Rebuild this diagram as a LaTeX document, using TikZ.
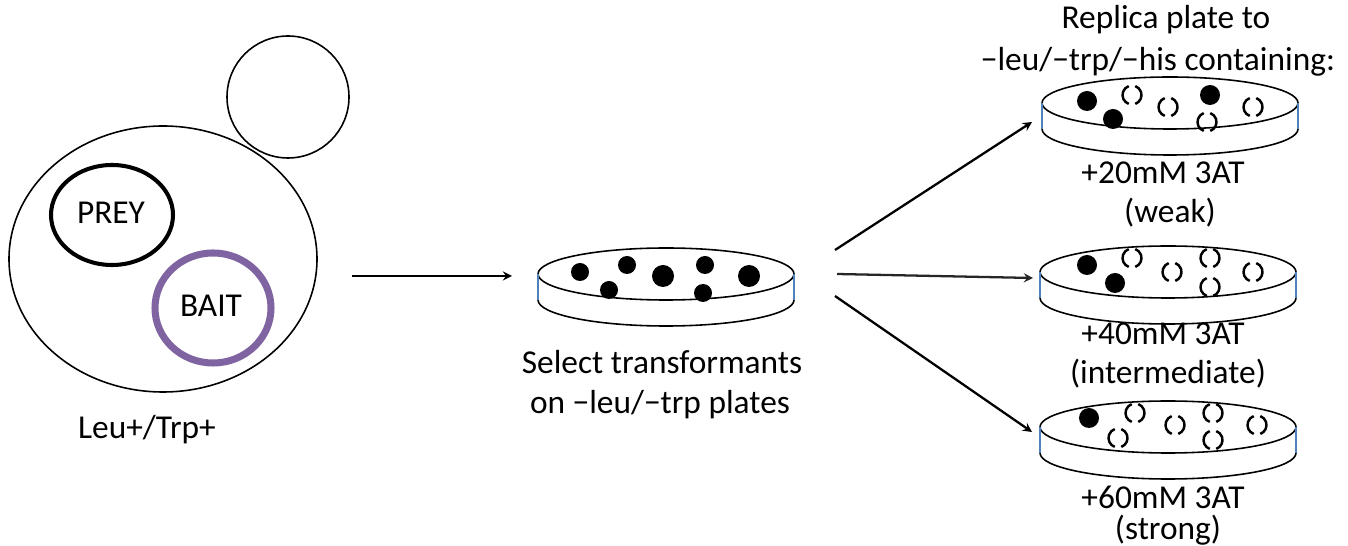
\documentclass[tikz,border=0pt]{standalone}
\usepackage{fontspec}
\setmainfont{Carlito}
\definecolor{baitpurple}{RGB}{128,100,162}
\definecolor{rimblue}{RGB}{79,129,189}
\tikzset{
  wall/.style={line width=0.9pt},
  dish/.style={line width=0.9pt},
  rim/.style={line width=1.3pt, rimblue},
  grown/.style={fill=black},
  dead/.style={line width=1.4pt},
  arr/.style={->, line width=1.3pt},
}
% petri dish: top centre, name
\newcommand\petri[2]{%
  \path (#1) coordinate (#2);
  \draw[dish] (#2) ellipse (128 and 26);
  \draw[dish] (#2) ++(-128,26) arc (180:0:128 and 26);
  \draw[rim] (#2) ++(-128,0) -- ++(0,26);
  \draw[rim] (#2) ++(128,0) -- ++(0,26);
}
% colony that did not grow
\newcommand\nogrow[1]{%
  \draw[dead] (#1) ++(70:9.5) arc (70:-70:9.5);
  \draw[dead] (#1) ++(110:9.5) arc (110:250:9.5);
}
\begin{document}
\begin{tikzpicture}[x=0.02cm, y=-0.02cm, line join=round, >=stealth,
  font=\fontsize{19}{22}\selectfont]
\useasboundingbox (0,0) rectangle (1348,546);

% yeast cell with the two plasmids
\draw[wall] (163,259) ellipse (154 and 133);
\draw[wall] (288,97) circle (61);
\draw[line width=2.3pt] (112,215) ellipse (61 and 50);
\draw[line width=4pt, baitpurple] (213,308) ellipse (58 and 55);
\node (prey) at (111,213) {PREY};
\node (bait) at (211,306) {BAIT};
\node (cell) at (147,430) {Leu+/Trp+};

% plates
\petri{666,274}{sel}
\petri{1170,103}{weak}
\petri{1168,272}{mid}
\petri{1168,427}{strong}

% transformants
\foreach \x/\y/\r in {580/272/9, 627/265/9, 609/290/9, 663/276/11,
  705/265/9, 703/293/9, 749/276/11}
  \fill[grown] (\x,\y) circle (\r);

% replicas
\foreach \x/\y in {1087/101, 1113/119, 1210/95, 1087/265, 1115/283, 1089/418}
  \fill[grown] (\x,\y) circle (10);
\foreach \x/\y in {1132/95, 1168/107, 1207/122, 1253/107,
  1132/258, 1172/272, 1210/258, 1210/287, 1253/272,
  1135/413, 1118/438, 1175/425, 1213/413, 1213/440, 1257/425}
  {\nogrow{\x,\y}}

% labels
\node (selA) at (662,362) {Select transformants};
\node (selB) at (660,405) {on −leu/−trp plates};
\node (repA) at (1166,20) {Replica plate to};
\node (repB) at (1158,62) {−leu/−trp/−his containing:};
\node (wA) at (1163,173) {+20mM 3AT};
\node (wB) at (1170,213) {(weak)};
\node (mA) at (1163,334) {+40mM 3AT};
\node (mB) at (1168,374) {(intermediate)};
\node (sA) at (1163,497) {+60mM 3AT};
\node (sB) at (1168,530) {(strong)};

% arrows
\path
(352,276) coordinate (c1)
(512,276) coordinate (c2)
(835,250) coordinate (s1)
(837,274) coordinate (s2)
(835,296) coordinate (s3)
(1032,122) coordinate (w1)
(1033,278) coordinate (m1)
(1032,432) coordinate (t1)
;
\draw[arr] (c1)--(c2);
\draw[arr] (s1)--(w1);
\draw[arr, black!85] (s2)--(m1);
\draw[arr] (s3)--(t1);
\end{tikzpicture}
\end{document}
